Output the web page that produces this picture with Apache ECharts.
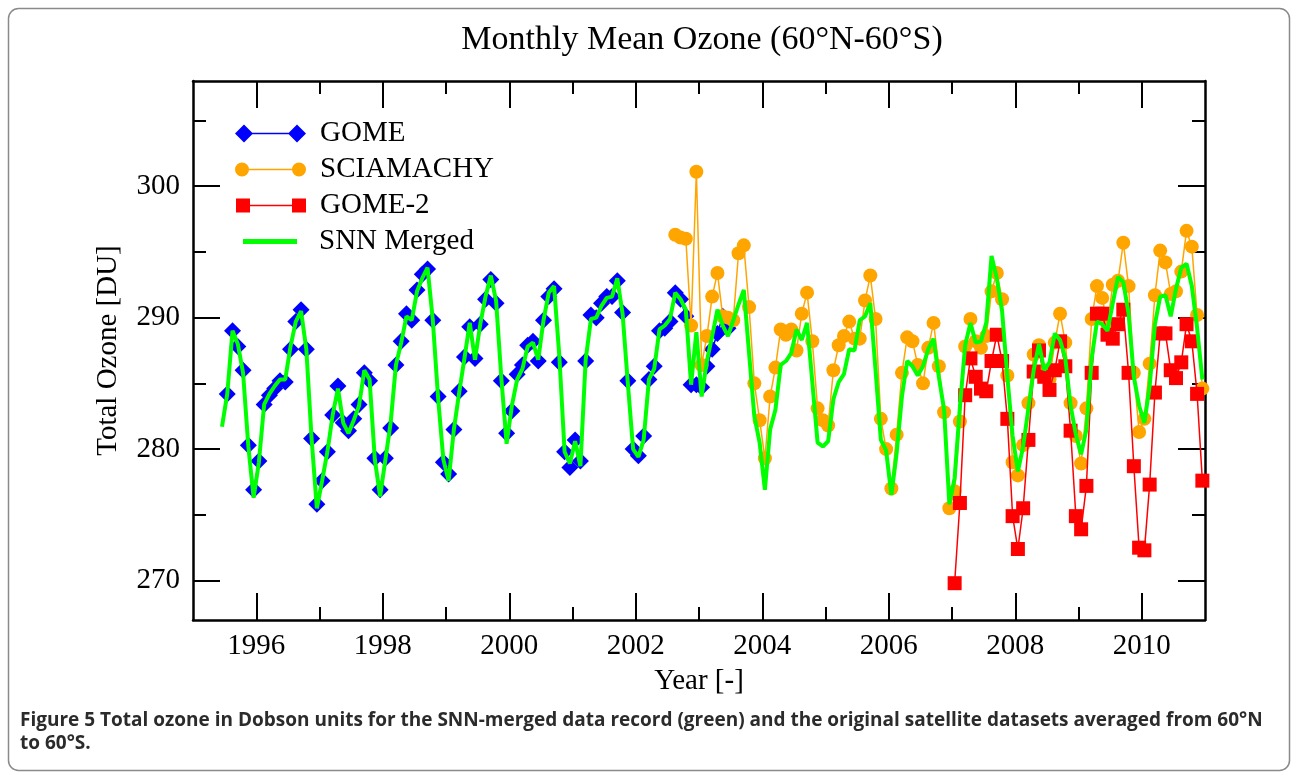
<!DOCTYPE html>
<html><head><meta charset="utf-8">
<script src="https://cdn.jsdelivr.net/npm/echarts@6/dist/echarts.min.js"></script>
<style>html,body{margin:0;padding:0;background:#fff}#c{width:1292px;height:773px}</style>
</head><body><div id="c"></div>
<script>
// ---- data (monthly means, DU) ----
const gomeStart = [1995, 7];
const gomeValues = [
  284.2, 289.0, 287.8, 286.0, 280.3, 276.9,
  279.1, 283.4, 284.1, 284.6, 285.2, 285.1, 287.6, 289.7, 290.6, 287.6, 280.8, 275.8,
  277.6, 279.8, 282.6, 284.8, 282.0, 281.4, 282.3, 283.4, 285.8, 285.2, 279.3, 276.9,
  279.3, 281.6, 286.4, 288.2, 290.3, 289.8, 292.1, 293.3, 293.7, 289.8, 284.0, 279.0,
  278.1, 281.5, 284.4, 287.0, 289.3, 286.9, 289.5, 291.4, 292.9, 291.1, 285.2, 281.2,
  282.9, 285.7, 286.4, 287.9, 288.2, 286.7, 289.8, 291.6, 292.2, 286.6, 279.8, 278.6,
  280.7, 279.1, 286.7, 290.2, 290.0, 291.1, 291.6, 291.6, 292.8, 290.4, 285.2, 280.0,
  279.5, 281.0, 285.3, 286.3, 289.0, 289.2, 289.7, 291.9, 291.4, 290.1, 284.9, 284.9,
  284.7, 286.3, 287.6, 288.8, 290.1, 289.2
];
const sciaStart = [2002, 8];
const sciaValues = [
  296.3, 296.1, 296.0, 289.4, 301.1,
  286.4, 288.6, 291.6, 293.4, 290.1, 290.0, 289.8, 294.9, 295.5, 290.8, 285.0, 282.2,
  279.3, 284.0, 286.2, 289.1, 288.7, 289.1, 287.5, 290.3, 291.9, 288.2, 283.1, 282.2,
  281.8, 286.0, 287.9, 288.6, 289.7, 288.4, 288.4, 291.3, 293.2, 289.9, 282.3, 280.0,
  277.0, 281.1, 285.8, 288.5, 288.2, 286.4, 285.0, 287.7, 289.6, 286.3, 282.8, 275.5,
  276.8, 282.1, 287.8, 289.9, 288.2, 287.7, 288.6, 292.0, 293.4, 291.4, 285.6, 279.0,
  278.0, 280.3, 283.5, 287.2, 287.9, 286.0, 285.3, 288.1, 290.3, 288.1, 283.5, 281.0,
  278.9, 283.1, 289.9, 292.4, 291.5, 289.5, 292.5, 292.8, 295.7, 292.4, 285.8, 281.3,
  282.3, 286.5, 291.7, 295.1, 294.2, 291.8, 292.0, 293.5, 296.6, 295.4, 290.2, 284.6
];
const gome2Start = [2007, 1];
const gome2Values = [
  269.8, 275.9, 284.1, 286.9, 285.5, 284.6, 284.4, 286.7, 288.7, 286.7, 282.3, 274.9,
  272.4, 275.5, 280.7, 285.9, 287.5, 285.5, 284.5, 286.0, 288.2, 286.3, 281.4, 274.9,
  273.9, 277.2, 285.8, 290.3, 290.3, 288.7, 288.4, 289.5, 290.6, 285.8, 278.7, 272.5,
  272.3, 277.3, 284.3, 288.8, 288.8, 286.0, 285.4, 286.6, 289.5, 288.2, 284.2, 277.6
];
const snnStart = [1995, 6];
const snnValues = [
  281.7, 284.2, 289.0, 288.0, 285.8, 280.2, 276.3,
  279.0, 283.4, 284.2, 284.8, 285.3, 285.3, 287.8, 289.7, 290.5, 287.6, 280.8, 275.5,
  277.6, 279.8, 282.6, 284.6, 282.0, 281.2, 282.2, 283.3, 286.0, 285.3, 279.2, 276.4,
  279.2, 282.0, 286.4, 288.1, 290.1, 289.8, 292.0, 293.0, 293.8, 289.8, 283.9, 279.2,
  277.6, 281.5, 284.3, 286.9, 289.6, 286.8, 289.5, 291.6, 293.2, 291.3, 285.4, 280.4,
  283.3, 285.3, 286.1, 287.8, 288.1, 286.8, 289.8, 291.9, 292.4, 287.1, 279.8, 278.9,
  280.6, 278.7, 286.8, 289.9, 290.0, 290.9, 291.5, 291.6, 293.0, 290.3, 285.0, 280.0,
  279.4, 280.7, 285.3, 286.1, 289.1, 289.4, 289.9, 291.9, 291.4, 290.6, 284.9, 288.9,
  284.0, 286.7, 288.6, 290.6, 289.4, 288.6, 289.8, 291.0, 292.1, 287.3, 282.5, 280.5,
  276.9, 281.5, 283.0, 286.4, 286.7, 287.3, 289.1, 288.3, 289.6, 285.1, 280.5, 280.2,
  280.6, 283.8, 285.1, 285.7, 287.6, 287.5, 289.8, 290.1, 291.1, 286.0, 280.7, 279.9,
  276.5, 279.7, 284.0, 286.7, 286.3, 285.6, 286.3, 287.6, 288.4, 285.5, 283.0, 275.8,
  277.8, 283.2, 287.9, 289.6, 288.1, 288.2, 289.6, 294.7, 293.0, 290.5, 285.5, 281.0,
  278.3, 280.2, 283.1, 286.0, 288.0, 286.0, 286.6, 288.8, 288.3, 286.9, 283.3, 281.1,
  279.6, 281.5, 286.9, 289.7, 289.5, 289.0, 291.1, 293.1, 292.7, 290.3, 285.5, 283.3,
  282.0, 284.8, 289.5, 291.6, 291.7, 290.1, 292.2, 293.8, 294.1, 292.4, 289.2, 285.3
];
const seriesNames = ['GOME', 'SCIAMACHY', 'GOME-2', 'SNN Merged'];
const xMajorTicks = [1996, 1998, 2000, 2002, 2004, 2006, 2008, 2010];
const xMinorTicks = [1997, 1999, 2001, 2003, 2005, 2007, 2009];
const yMajorTicks = [270, 280, 290, 300];
const yMinorTicks = [275, 285, 295, 305];

// month index -> decimal year (mid-month)
function toPairs(start, values) {
  return values.map((v, i) => {
    const m = start[1] - 1 + i;
    return [start[0] + (m + 0.5) / 12, v];
  });
}

const SERIF = '"Liberation Serif", "DejaVu Serif", serif';
const X_MIN = 1995, X_MAX = 2011, Y_MIN = 267, Y_MAX = 308;

function xAxisDef(pos, ticks, len, showLine, showLabel) {
  return {
    type: 'value', position: pos, min: X_MIN, max: X_MAX,
    name: (pos === 'bottom' && showLabel) ? 'Year [-]' : '',
    nameLocation: 'middle', nameGap: 47,
    nameTextStyle: { fontFamily: SERIF, fontSize: 29, color: '#000' },
    axisLine: { show: showLine, onZero: false, lineStyle: { color: '#000', width: 2.5 } },
    axisTick: { show: true, inside: true, length: len, customValues: ticks, lineStyle: { color: '#000', width: 2 } },
    axisLabel: { show: showLabel, customValues: ticks, margin: 12, fontFamily: SERIF, fontSize: 29, color: '#000', formatter: v => String(v) },
    splitLine: { show: false }
  };
}
function yAxisDef(pos, ticks, len, showLine, showLabel) {
  return {
    type: 'value', position: pos, min: Y_MIN, max: Y_MAX,
    name: (pos === 'left' && showLabel) ? 'Total Ozone [DU]' : '',
    nameLocation: 'middle', nameGap: 70, nameRotate: 90,
    nameTextStyle: { fontFamily: SERIF, fontSize: 29, color: '#000' },
    axisLine: { show: showLine, onZero: false, lineStyle: { color: '#000', width: 2.5 } },
    axisTick: { show: true, inside: true, length: len, customValues: ticks, lineStyle: { color: '#000', width: 2 } },
    axisLabel: { show: showLabel, customValues: ticks, margin: 13, fontFamily: SERIF, fontSize: 29, color: '#000', formatter: v => String(v) },
    splitLine: { show: false }
  };
}

const legendText = { fontFamily: SERIF, fontSize: 29, color: '#000' };
function legendDef(name, icon, w, h, left, top, pad) {
  return {
    data: [{ name: name, icon: icon }],
    left: left, top: top, itemWidth: w, itemHeight: h,
    textStyle: Object.assign({}, legendText, { padding: [0, 0, 0, pad] }),
    selectedMode: false, padding: 0
  };
}
const iconDiamond = 'path://M0,9L9,0L18,9L9,18Z M53,9L62,0L71,9L62,18Z M9,8.2L62,8.2L62,9.8L9,9.8Z';
const iconCircle = 'path://M0,7A7,7 0 1,1 14,7A7,7 0 1,1 0,7Z M57,7A7,7 0 1,1 71,7A7,7 0 1,1 57,7Z M7,6.2L64,6.2L64,7.8L7,7.8Z';
const iconSquare = 'path://M0,0L14,0L14,14L0,14Z M56,0L70,0L70,14L56,14Z M14,6.2L56,6.2L56,7.8L14,7.8Z';
const iconLine = 'path://M0,0L54,0L54,5L0,5Z';

const chart = echarts.init(document.getElementById('c'), null, { renderer: 'canvas' });
chart.setOption({
  backgroundColor: '#fff',
  animation: false,
  title: {
    text: 'Monthly Mean Ozone (60°N-60°S)',
    left: 697, top: 18, textAlign: 'center',
    textStyle: { fontFamily: SERIF, fontSize: 34, fontWeight: 'normal', color: '#000' }
  },
  grid: { left: 193, top: 81, right: 87, bottom: 153, containLabel: false },
  xAxis: [
    xAxisDef('bottom', xMajorTicks, 27, true, true),
    xAxisDef('bottom', xMinorTicks, 13, false, false),
    xAxisDef('top', xMajorTicks, 27, true, false),
    xAxisDef('top', xMinorTicks, 13, false, false)
  ],
  yAxis: [
    yAxisDef('left', yMajorTicks, 27, true, true),
    yAxisDef('left', yMinorTicks, 13, false, false),
    yAxisDef('right', yMajorTicks, 27, true, false),
    yAxisDef('right', yMinorTicks, 13, false, false)
  ],
  legend: [
    legendDef(seriesNames[0], iconDiamond, 71, 18, 235, 119, 9),
    legendDef(seriesNames[1], iconCircle, 71, 14, 235, 155, 9),
    legendDef(seriesNames[2], iconSquare, 70, 14, 236, 191, 9),
    legendDef(seriesNames[3], iconLine, 54, 5, 243, 227, 17)
  ],
  series: [
    {
      name: seriesNames[0], type: 'line', data: toPairs(gomeStart, gomeValues),
      symbol: 'diamond', symbolSize: 17, showAllSymbol: true,
      itemStyle: { color: '#0000ff' }, lineStyle: { color: '#0000ff', width: 1.5 }, z: 2
    },
    {
      name: seriesNames[1], type: 'line', data: toPairs(sciaStart, sciaValues),
      symbol: 'circle', symbolSize: 14, showAllSymbol: true,
      itemStyle: { color: '#ffa500' }, lineStyle: { color: '#ffa500', width: 1.5 }, z: 3
    },
    {
      name: seriesNames[2], type: 'line', data: toPairs(gome2Start, gome2Values),
      symbol: 'rect', symbolSize: 14, showAllSymbol: true,
      itemStyle: { color: '#ff0000' }, lineStyle: { color: '#ff0000', width: 1.5 }, z: 4
    },
    {
      name: seriesNames[3], type: 'line', data: toPairs(snnStart, snnValues),
      symbol: 'none', showSymbol: false,
      itemStyle: { color: '#00ff00' }, lineStyle: { color: '#00ff00', width: 4 }, z: 5
    }
  ],
  graphic: [
    {
      type: 'rect', silent: true, z: -1,
      shape: { x: 8.5, y: 8.5, width: 1281, height: 762, r: 10 },
      style: { fill: 'none', stroke: '#8a8a8a', lineWidth: 1.5 }
    },
    {
      type: 'text', left: 20, top: 711,
      style: {
        text: 'Figure 5 Total ozone in Dobson units for the SNN-merged data record (green) and the original satellite datasets averaged from 60°N',
        font: 'bold 19px "Open Sans", "Noto Sans", sans-serif', fill: '#2b2b2b'
      }
    },
    {
      type: 'text', left: 20, top: 734,
      style: {
        text: 'to 60°S.',
        font: 'bold 19px "Open Sans", "Noto Sans", sans-serif', fill: '#2b2b2b'
      }
    }
  ]
});
</script>
</body></html>
